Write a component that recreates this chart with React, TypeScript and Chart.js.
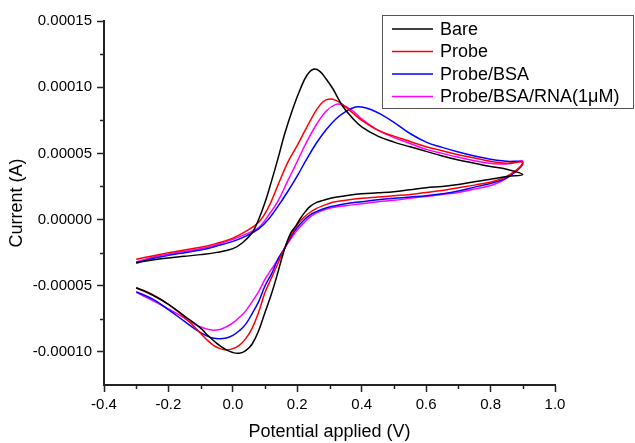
import React, { useEffect, useRef } from "react";
import { Chart, registerables } from "chart.js";

Chart.register(...registerables);

// ---- Data: potential (V) and current (A); forward scan then reverse scan ----
const bareV = [
  -0.30, -0.25, -0.20, -0.15, -0.10, -0.05, 0.00, 0.03, 0.06, 0.08, 0.10, 0.12, 0.14, 0.16, 0.185, 0.21, 0.23, 0.25, 0.27, 0.29, 0.31, 0.34, 0.37, 0.40, 0.45, 0.50, 0.55, 0.60, 0.65, 0.70, 0.75, 0.80, 0.85, 0.90,
  0.85, 0.80, 0.75, 0.70, 0.65, 0.60, 0.55, 0.50, 0.45, 0.40, 0.35, 0.31, 0.28, 0.26, 0.24, 0.225, 0.21, 0.195, 0.18, 0.165, 0.15, 0.135, 0.12, 0.10, 0.08, 0.06, 0.04, 0.02, 0.00, -0.02, -0.05, -0.08, -0.10, -0.15, -0.20, -0.25, -0.30,
];
const bareI = [
  -3.25e-5, -3.05e-5, -2.9e-5, -2.78e-5, -2.65e-5, -2.48e-5, -2.2e-5, -1.75e-5, -1.0e-5, 0.0, 1.3e-5, 2.9e-5, 4.6e-5, 6.4e-5, 8.3e-5, 9.9e-5, 10.9e-5, 11.35e-5, 11.2e-5, 10.6e-5, 9.9e-5, 8.6e-5, 7.7e-5, 7.0e-5, 6.3e-5, 5.85e-5, 5.5e-5, 5.15e-5, 4.8e-5, 4.5e-5, 4.25e-5, 4.0e-5, 3.8e-5, 3.4e-5,
  3.25e-5, 3.05e-5, 2.85e-5, 2.65e-5, 2.5e-5, 2.4e-5, 2.25e-5, 2.1e-5, 2.02e-5, 1.95e-5, 1.8e-5, 1.65e-5, 1.45e-5, 1.3e-5, 1.0e-5, 0.6e-5, 0.1e-5, -0.5e-5, -1.0e-5, -1.9e-5, -3.1e-5, -4.4e-5, -5.6e-5, -7.0e-5, -8.4e-5, -9.4e-5, -9.9e-5, -10.1e-5, -10.05e-5, -9.85e-5, -9.35e-5, -8.7e-5, -8.2e-5, -7.3e-5, -6.4e-5, -5.7e-5, -5.15e-5,
];

const probeV = [
  -0.30, -0.25, -0.20, -0.15, -0.10, -0.05, 0.00, 0.04, 0.08, 0.11, 0.14, 0.17, 0.20, 0.23, 0.26, 0.28, 0.30, 0.32, 0.34, 0.37, 0.40, 0.45, 0.50, 0.55, 0.60, 0.65, 0.70, 0.75, 0.80, 0.85, 0.90,
  0.86, 0.81, 0.75, 0.70, 0.65, 0.60, 0.55, 0.50, 0.45, 0.40, 0.35, 0.31, 0.28, 0.26, 0.24, 0.22, 0.20, 0.18, 0.16, 0.14, 0.12, 0.10, 0.08, 0.06, 0.04, 0.02, 0.00, -0.02, -0.04, -0.06, -0.08, -0.10, -0.15, -0.20, -0.25, -0.30,
];
const probeI = [
  -3.0e-5, -2.75e-5, -2.5e-5, -2.3e-5, -2.1e-5, -1.8e-5, -1.4e-5, -0.9e-5, -0.2e-5, 0.9e-5, 2.6e-5, 4.3e-5, 5.6e-5, 7.0e-5, 8.3e-5, 8.9e-5, 9.1e-5, 9.0e-5, 8.7e-5, 8.1e-5, 7.5e-5, 6.75e-5, 6.3e-5, 5.9e-5, 5.5e-5, 5.2e-5, 4.9e-5, 4.65e-5, 4.4e-5, 4.25e-5, 4.3e-5,
  3.4e-5, 2.9e-5, 2.6e-5, 2.4e-5, 2.2e-5, 2.05e-5, 1.9e-5, 1.8e-5, 1.7e-5, 1.6e-5, 1.45e-5, 1.3e-5, 1.05e-5, 0.85e-5, 0.55e-5, 0.15e-5, -0.4e-5, -1.2e-5, -2.2e-5, -3.3e-5, -4.4e-5, -5.5e-5, -7.0e-5, -8.2e-5, -9.0e-5, -9.5e-5, -9.75e-5, -9.85e-5, -9.75e-5, -9.5e-5, -9.1e-5, -8.6e-5, -7.4e-5, -6.4e-5, -5.65e-5, -5.15e-5,
];

const bsaV = [
  -0.30, -0.25, -0.20, -0.15, -0.10, -0.05, 0.00, 0.04, 0.08, 0.11, 0.14, 0.17, 0.20, 0.23, 0.26, 0.29, 0.32, 0.35, 0.38, 0.40, 0.43, 0.46, 0.50, 0.55, 0.60, 0.65, 0.70, 0.75, 0.80, 0.85, 0.90,
  0.86, 0.81, 0.75, 0.70, 0.65, 0.60, 0.55, 0.50, 0.45, 0.40, 0.35, 0.31, 0.28, 0.26, 0.24, 0.22, 0.20, 0.18, 0.16, 0.14, 0.12, 0.10, 0.08, 0.06, 0.04, 0.02, 0.00, -0.02, -0.045, -0.07, -0.10, -0.15, -0.20, -0.25, -0.30,
];
const bsaI = [
  -3.3e-5, -2.95e-5, -2.7e-5, -2.5e-5, -2.3e-5, -2.0e-5, -1.65e-5, -1.25e-5, -0.7e-5, 0.0, 1.0e-5, 2.1e-5, 3.3e-5, 4.6e-5, 5.8e-5, 6.8e-5, 7.6e-5, 8.15e-5, 8.5e-5, 8.5e-5, 8.3e-5, 7.95e-5, 7.35e-5, 6.5e-5, 5.85e-5, 5.45e-5, 5.1e-5, 4.8e-5, 4.55e-5, 4.4e-5, 4.3e-5,
  3.3e-5, 2.8e-5, 2.45e-5, 2.15e-5, 1.95e-5, 1.8e-5, 1.7e-5, 1.6e-5, 1.5e-5, 1.35e-5, 1.2e-5, 1.0e-5, 0.8e-5, 0.6e-5, 0.35e-5, -0.05e-5, -0.6e-5, -1.3e-5, -2.2e-5, -3.0e-5, -4.1e-5, -5.0e-5, -6.2e-5, -7.1e-5, -7.9e-5, -8.4e-5, -8.75e-5, -8.95e-5, -9.0e-5, -8.9e-5, -8.55e-5, -7.7e-5, -6.8e-5, -6.0e-5, -5.45e-5,
];

const rnaV = [
  -0.30, -0.25, -0.20, -0.15, -0.10, -0.05, 0.00, 0.04, 0.08, 0.11, 0.14, 0.17, 0.20, 0.23, 0.26, 0.29, 0.32, 0.34, 0.37, 0.40, 0.45, 0.50, 0.55, 0.60, 0.65, 0.70, 0.75, 0.80, 0.85, 0.90,
  0.86, 0.81, 0.75, 0.70, 0.65, 0.60, 0.55, 0.50, 0.45, 0.40, 0.35, 0.31, 0.28, 0.26, 0.24, 0.22, 0.20, 0.18, 0.16, 0.14, 0.12, 0.10, 0.08, 0.06, 0.04, 0.02, 0.00, -0.02, -0.04, -0.065, -0.09, -0.12, -0.16, -0.20, -0.25, -0.30,
];
const rnaI = [
  -3.2e-5, -2.85e-5, -2.6e-5, -2.4e-5, -2.2e-5, -1.9e-5, -1.5e-5, -1.1e-5, -0.6e-5, 0.3e-5, 1.4e-5, 2.9e-5, 4.4e-5, 5.9e-5, 7.2e-5, 8.2e-5, 8.7e-5, 8.65e-5, 8.25e-5, 7.6e-5, 6.75e-5, 6.2e-5, 5.75e-5, 5.3e-5, 5.0e-5, 4.7e-5, 4.45e-5, 4.25e-5, 4.2e-5, 4.4e-5,
  3.3e-5, 2.65e-5, 2.3e-5, 2.05e-5, 1.9e-5, 1.75e-5, 1.6e-5, 1.45e-5, 1.35e-5, 1.2e-5, 1.05e-5, 0.9e-5, 0.7e-5, 0.5e-5, 0.2e-5, -0.25e-5, -0.8e-5, -1.45e-5, -2.2e-5, -3.0e-5, -3.75e-5, -4.5e-5, -5.45e-5, -6.2e-5, -6.9e-5, -7.4e-5, -7.8e-5, -8.1e-5, -8.3e-5, -8.35e-5, -8.2e-5, -7.9e-5, -7.3e-5, -6.75e-5, -6.1e-5, -5.5e-5,
];

const seriesLabels = ["Bare", "Probe", "Probe/BSA", "Probe/BSA/RNA(1\u03bcM)"];
const seriesColors = ["#000000", "#ff0000", "#0000ff", "#ff00ff"];
const seriesV = [bareV, probeV, bsaV, rnaV];
const seriesI = [bareI, probeI, bsaI, rnaI];

const xTickValues = [-0.4, -0.2, 0.0, 0.2, 0.4, 0.6, 0.8, 1.0];
const yTickValues = [-0.0001, -0.00005, 0.0, 0.00005, 0.0001, 0.00015];
const xMinorTicks = [-0.3, -0.1, 0.1, 0.3, 0.5, 0.7, 0.9];
const yMinorTicks = [-0.000075, -0.000025, 0.000025, 0.000075, 0.000125];

const FONT = "'Liberation Sans', Arial, Helvetica, sans-serif";
const AXIS = "#222222";

const minorTickPlugin = {
  id: "minorTicks",
  afterDraw(chart: any) {
    const { ctx, chartArea } = chart;
    const xs = chart.scales.x;
    const ys = chart.scales.y;
    ctx.save();
    ctx.strokeStyle = AXIS;
    ctx.lineWidth = 1.5;
    ctx.beginPath();
    for (const v of xMinorTicks) {
      const px = Math.round(xs.getPixelForValue(v)) + 0.5;
      ctx.moveTo(px, chartArea.bottom);
      ctx.lineTo(px, chartArea.bottom + 4);
    }
    for (const v of yMinorTicks) {
      const py = Math.round(ys.getPixelForValue(v)) + 0.5;
      ctx.moveTo(chartArea.left, py);
      ctx.lineTo(chartArea.left - 4, py);
    }
    ctx.stroke();
    ctx.restore();
  },
};

const boxLegendPlugin = {
  id: "boxLegend",
  afterDraw(chart: any) {
    const ctx = chart.ctx;
    const left = 382, top = 15, width = 251, height = 93;
    ctx.save();
    ctx.fillStyle = "#ffffff";
    ctx.fillRect(left, top, width, height);
    ctx.strokeStyle = "#555555";
    ctx.lineWidth = 1;
    ctx.strokeRect(left + 0.5, top + 0.5, width, height);
    ctx.font = `18px ${FONT}`;
    ctx.textBaseline = "middle";
    ctx.textAlign = "left";
    chart.data.datasets.forEach((ds: any, i: number) => {
      const y = top + 14 + i * 22.5;
      ctx.strokeStyle = ds.borderColor;
      ctx.lineWidth = 1.5;
      ctx.beginPath();
      ctx.moveTo(392, y);
      ctx.lineTo(433, y);
      ctx.stroke();
      ctx.fillStyle = "#000000";
      ctx.fillText(ds.label, 440, y + 1);
    });
    ctx.restore();
  },
};

export default function App() {
  const canvasRef = useRef<HTMLCanvasElement | null>(null);

  useEffect(() => {
    if (!canvasRef.current) return;
    Chart.defaults.font.family = FONT;
    const datasets = seriesLabels.map((label, k) => ({
      label,
      data: seriesV[k].map((x, j) => ({ x, y: seriesI[k][j] })),
      borderColor: seriesColors[k],
      backgroundColor: seriesColors[k],
      borderWidth: 1.5,
      showLine: true,
      pointRadius: 0,
      tension: 0.4,
      fill: false,
    }));
    const chart = new Chart(canvasRef.current, {
      type: "scatter",
      data: { datasets },
      plugins: [minorTickPlugin, boxLegendPlugin],
      options: {
        animation: false,
        responsive: false,
        maintainAspectRatio: false,
        layout: { padding: { top: 21, right: 80, bottom: 0, left: 0 } },
        plugins: {
          legend: { display: false },
          tooltip: { enabled: false },
        },
        scales: {
          x: {
            type: "linear",
            min: -0.4,
            max: 1.0,
            afterFit: (s: any) => { s.height = 58; },
            afterBuildTicks: (s: any) => { s.ticks = xTickValues.map((value) => ({ value })); },
            ticks: {
              color: "#000",
              font: { size: 15, family: FONT },
              padding: 4,
              maxRotation: 0,
              autoSkip: false,
              callback: (v: any) => Number(v).toFixed(1),
            },
            grid: { drawOnChartArea: false, drawTicks: true, tickLength: 7, tickColor: AXIS, tickWidth: 1.5 },
            border: { display: true, color: AXIS, width: 2 },
            title: {
              display: true,
              text: "Potential applied (V)",
              color: "#000",
              font: { size: 18, family: FONT },
              padding: { top: 0, bottom: 0 },
            },
          },
          y: {
            type: "linear",
            min: -0.000125,
            max: 0.00015,
            afterFit: (s: any) => { s.width = 104; },
            afterBuildTicks: (s: any) => { s.ticks = yTickValues.map((value) => ({ value })); },
            ticks: {
              color: "#000",
              font: { size: 15, family: FONT },
              padding: 5,
              autoSkip: false,
              callback: (v: any) => Number(v).toFixed(5),
            },
            grid: { drawOnChartArea: false, drawTicks: true, tickLength: 7, tickColor: AXIS, tickWidth: 1.5 },
            border: { display: true, color: AXIS, width: 2 },
            title: {
              display: true,
              text: "Current (A)",
              color: "#000",
              font: { size: 18, family: FONT },
              padding: { top: 6, bottom: 0 },
            },
          },
        },
      },
    } as any);
    return () => chart.destroy();
  }, []);

  return (
    <div style={{ position: "fixed", left: 0, top: 0, width: 635, height: 443, background: "#fff" }}>
      <canvas ref={canvasRef} width={635} height={443} style={{ display: "block" }} />
    </div>
  );
}
